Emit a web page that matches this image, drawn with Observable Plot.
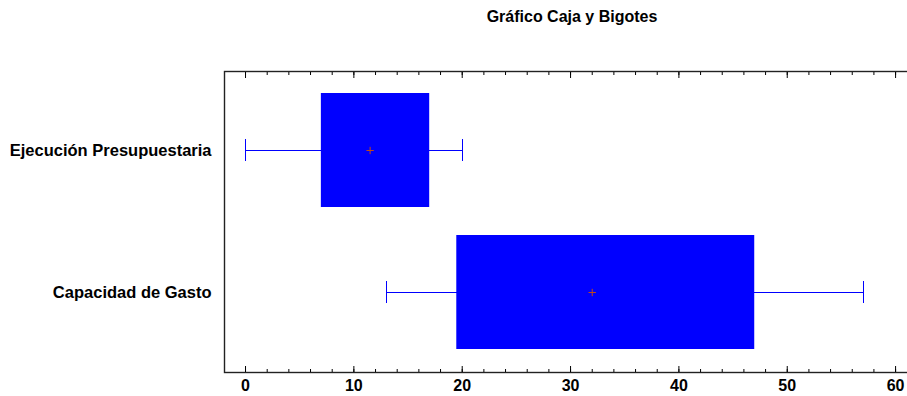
<!DOCTYPE html>
<html><head><meta charset="utf-8">
<script src="https://cdn.jsdelivr.net/npm/d3@7"></script>
<script src="https://cdn.jsdelivr.net/npm/@observablehq/plot@0.6"></script>
<style>
html,body{margin:0;background:#fff;font-family:"Liberation Sans",Arial,sans-serif;overflow:hidden;}
#title{height:40px;width:907px;position:relative;}
#title span{position:absolute;left:0;width:907px;padding-left:237px;box-sizing:border-box;text-align:center;top:8px;font-weight:bold;font-size:16px;color:#000;}
</style></head>
<body>
<div id="title"><span>Gráfico Caja y Bigotes</span></div>
<div id="chart"></div>
<script>
const categories = ["Ejecución Presupuestaria", "Capacidad de Gasto"];
const whiskerLow = [0, 13];
const q1 = [7, 19.5];
const q3 = [17, 47];
const whiskerHigh = [20, 57];
const means = [11.5, 32];
const majorTicks = [0, 10, 20, 30, 40, 50, 60];
const minorTicks = d3.range(0, 61, 2);

const data = categories.map((c, i) => ({name: c, lo: whiskerLow[i], q1: q1[i], q3: q3[i], hi: whiskerHigh[i], mean: means[i]}));
const blue = "#0000ff";

const plot = Plot.plot({
  width: 907, height: 356,
  marginTop: 31, marginBottom: 24, marginLeft: 224, marginRight: 0,
  style: {fontFamily: "'Liberation Sans', Arial, sans-serif", fontWeight: "bold", fontSize: "16px", color: "#000", background: "#fff"},
  x: {domain: [-1.94, 61.1]},
  y: {domain: categories, paddingInner: 0.197, paddingOuter: 0.155},
  marks: [
    Plot.frame({stroke: "#222", strokeWidth: 1.4, insetRight: -3}),
    Plot.axisX({anchor: "bottom", ticks: majorTicks, tickSize: 0, tickPadding: 7, label: null, fontSize: 16}),
    Plot.axisX({anchor: "bottom", ticks: minorTicks, tickSize: -3, tickFormat: () => "", label: null}),
    Plot.axisX({anchor: "bottom", ticks: majorTicks, tickSize: -6, tickFormat: () => "", label: null}),
    Plot.axisX({anchor: "top", ticks: minorTicks, tickSize: -3, tickFormat: () => "", label: null}),
    Plot.axisX({anchor: "top", ticks: majorTicks, tickSize: -6, tickFormat: () => "", label: null}),
    Plot.axisY({tickSize: 0, tickPadding: 13, label: null, fontSize: 16.5}),
    Plot.ruleY(data, {y: "name", x1: "lo", x2: "hi", stroke: blue, strokeWidth: 1, shapeRendering: "crispEdges"}),
    Plot.tickX(data, {x: "lo", y: "name", stroke: blue, insetTop: 46, insetBottom: 46, shapeRendering: "crispEdges"}),
    Plot.tickX(data, {x: "hi", y: "name", stroke: blue, insetTop: 46, insetBottom: 46, shapeRendering: "crispEdges"}),
    Plot.barX(data, {x1: "q1", x2: "q3", y: "name", fill: blue}),
    Plot.dot(data, {x: "mean", y: "name", symbol: "plus", r: 2.5, stroke: "#c04a18", strokeWidth: 1})
  ]
});
document.getElementById("chart").appendChild(plot);
</script>
</body></html>
